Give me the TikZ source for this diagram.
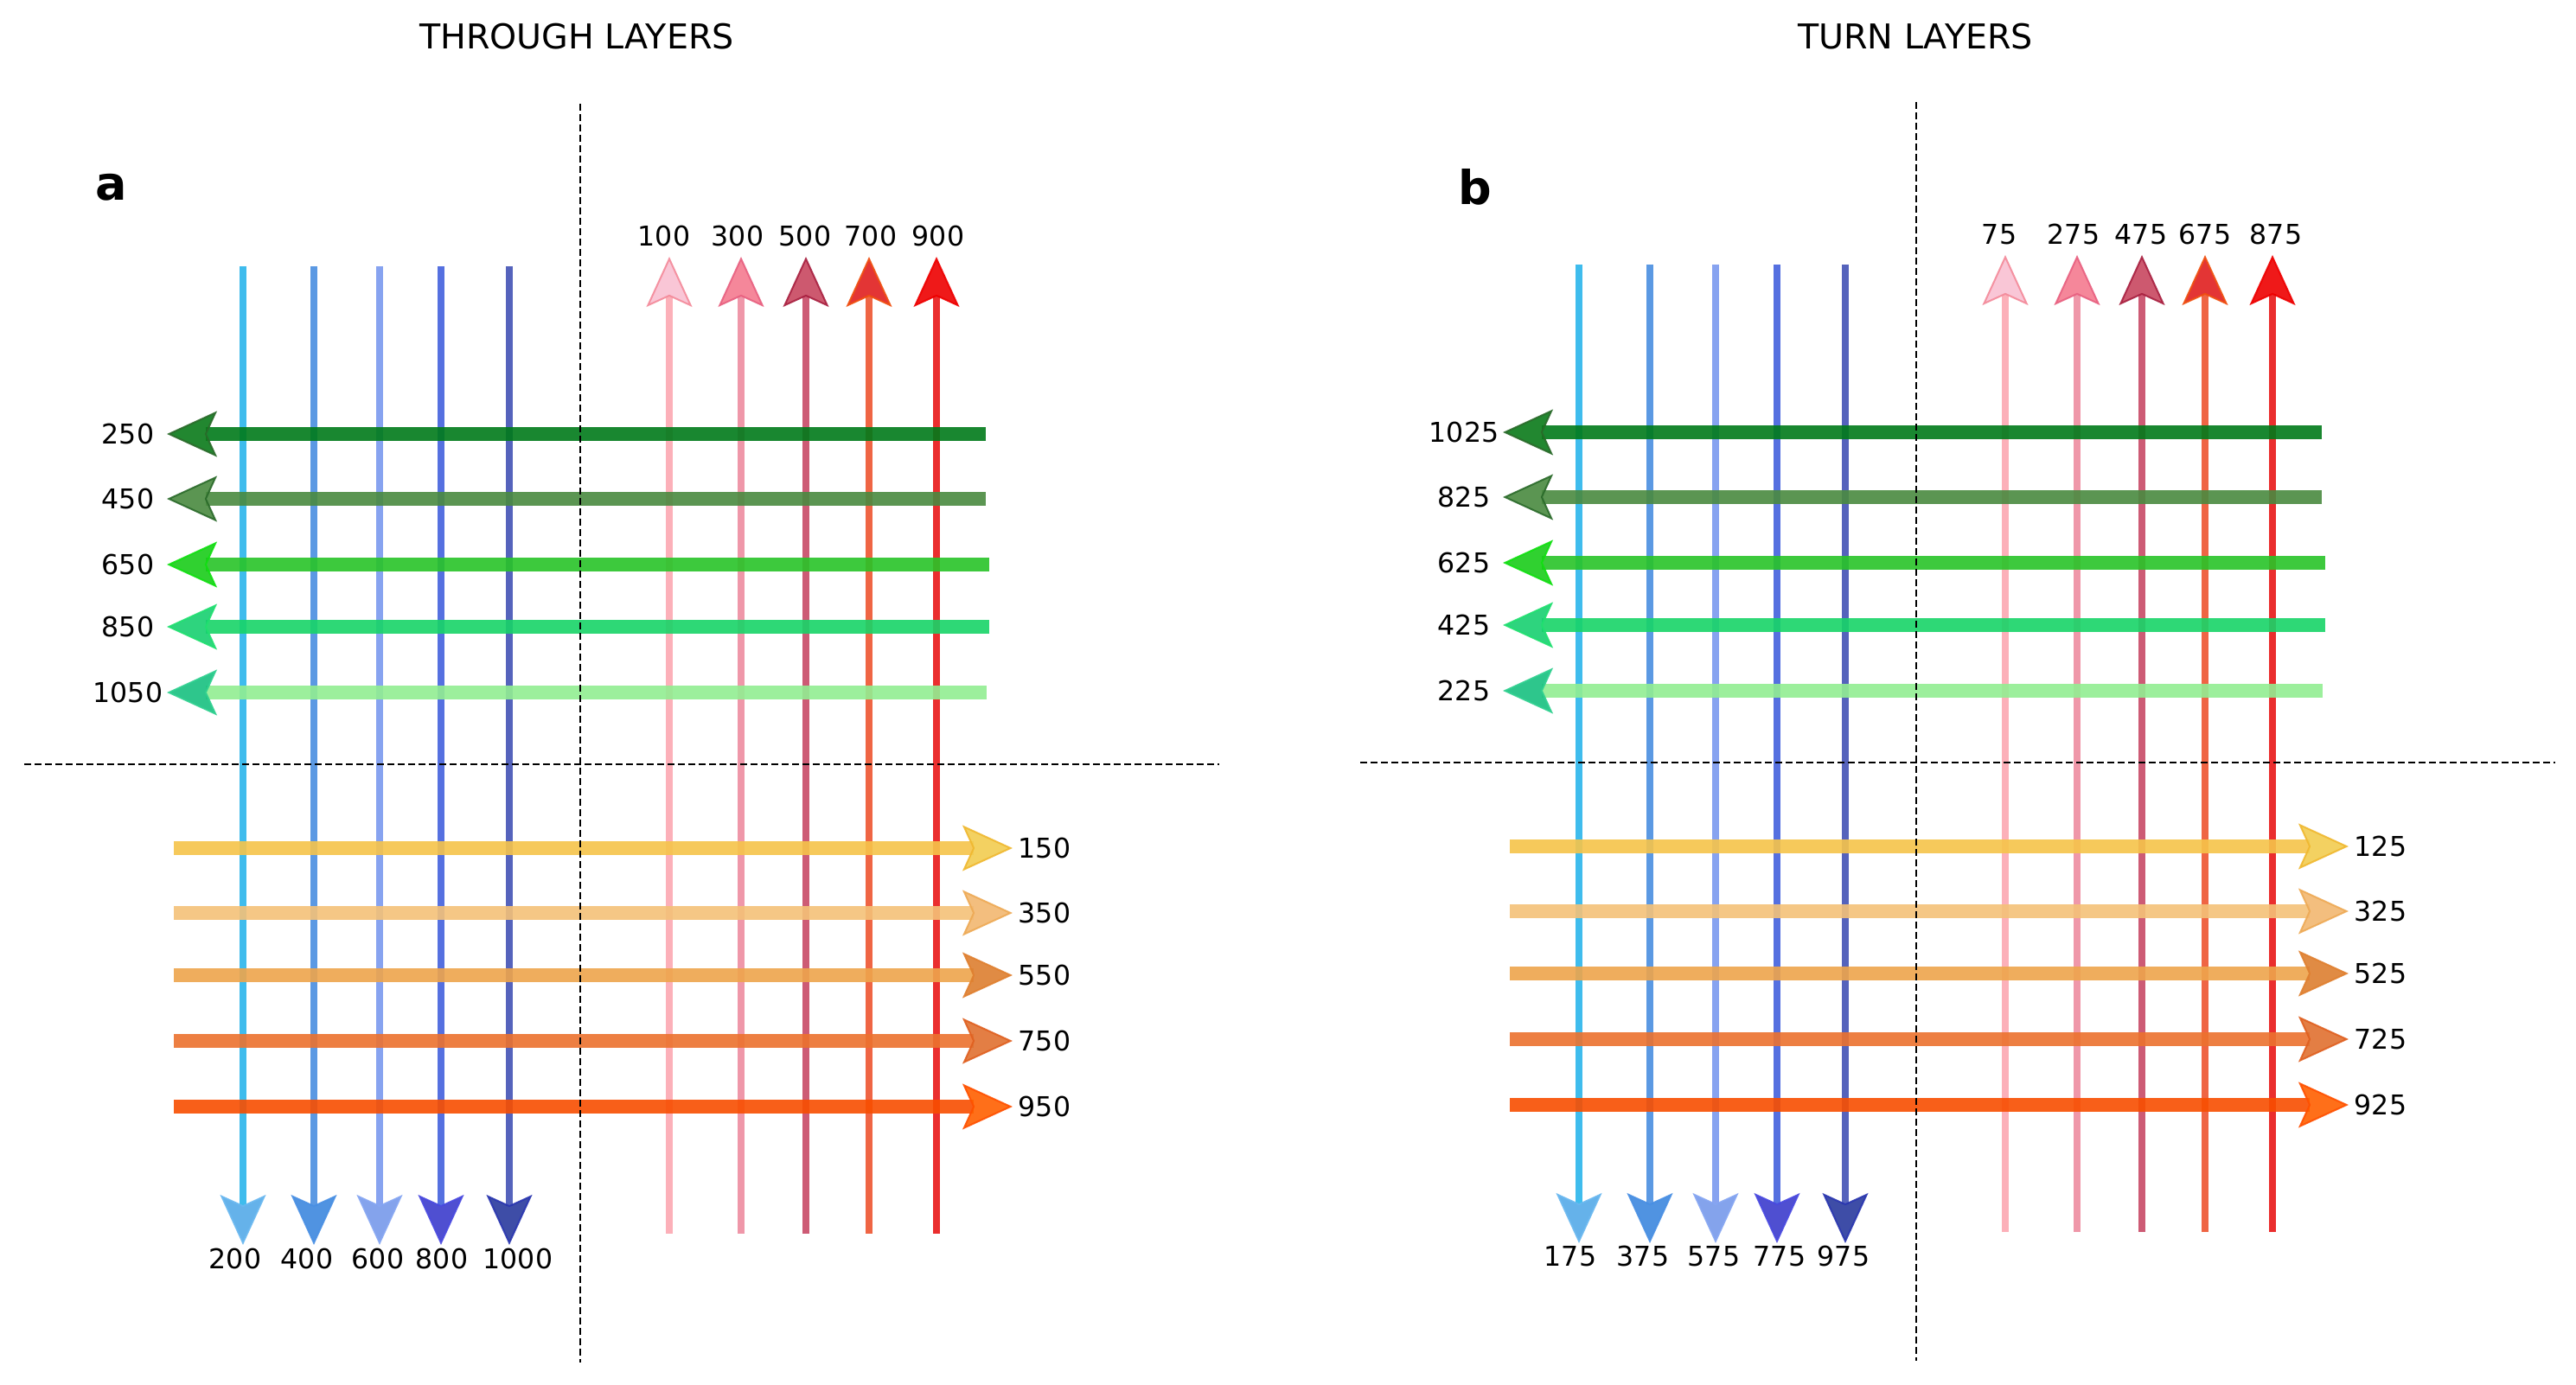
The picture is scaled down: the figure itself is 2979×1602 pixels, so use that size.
\documentclass[tikz,border=0pt]{standalone}
\usepackage{fontspec}
\setmainfont{DejaVu Sans}
\usetikzlibrary{arrows.meta}
% blue (down)
\definecolor{bl1L}{HTML}{2BB5EC}\definecolor{bl1H}{HTML}{55AAE8}\definecolor{bl1O}{HTML}{6AB8F0}
\definecolor{bl2L}{HTML}{4A8FE0}\definecolor{bl2H}{HTML}{3E88DE}\definecolor{bl2O}{HTML}{4A90E4}
\definecolor{bl3L}{HTML}{7A9AEF}\definecolor{bl3H}{HTML}{7799EA}\definecolor{bl3O}{HTML}{86A6F2}
\definecolor{bl4L}{HTML}{4361DD}\definecolor{bl4H}{HTML}{3C3CCC}\definecolor{bl4O}{HTML}{4A4AE0}
\definecolor{bl5L}{HTML}{4353B5}\definecolor{bl5H}{HTML}{2A3A9E}\definecolor{bl5O}{HTML}{2A36B0}
% red (up)
\definecolor{rd1L}{HTML}{FCA8B2}\definecolor{rd1H}{HTML}{F9C0D2}\definecolor{rd1O}{HTML}{F48A9A}
\definecolor{rd2L}{HTML}{EE8CA0}\definecolor{rd2H}{HTML}{F57A90}\definecolor{rd2O}{HTML}{E86080}
\definecolor{rd3L}{HTML}{C84A66}\definecolor{rd3H}{HTML}{C84860}\definecolor{rd3O}{HTML}{A82040}
\definecolor{rd4L}{HTML}{EE5530}\definecolor{rd4H}{HTML}{E02020}\definecolor{rd4O}{HTML}{F05010}
\definecolor{rd5L}{HTML}{E81818}\definecolor{rd5H}{HTML}{EE0000}\definecolor{rd5O}{HTML}{EE0000}
% green (left)
\definecolor{gr1L}{HTML}{007A1A}\definecolor{gr1H}{HTML}{0A7A1A}\definecolor{gr1O}{HTML}{2A6A2A}
\definecolor{gr2L}{HTML}{4A8A40}\definecolor{gr2H}{HTML}{4A8A40}\definecolor{gr2O}{HTML}{2A6A2A}
\definecolor{gr3L}{HTML}{28C428}\definecolor{gr3H}{HTML}{1ACC1A}\definecolor{gr3O}{HTML}{10E010}
\definecolor{gr4L}{HTML}{18D468}\definecolor{gr4H}{HTML}{18D070}\definecolor{gr4O}{HTML}{20E070}
\definecolor{gr5L}{HTML}{92EE92}\definecolor{gr5H}{HTML}{18C080}\definecolor{gr5O}{HTML}{30D090}
% orange (right)
\definecolor{or1L}{HTML}{F6C44A}\definecolor{or1H}{HTML}{F2CC50}\definecolor{or1O}{HTML}{F0B830}
\definecolor{or2L}{HTML}{F4C178}\definecolor{or2H}{HTML}{F2B870}\definecolor{or2O}{HTML}{EEAA55}
\definecolor{or3L}{HTML}{EEA54C}\definecolor{or3H}{HTML}{DD7F30}\definecolor{or3O}{HTML}{E08030}
\definecolor{or4L}{HTML}{EC722E}\definecolor{or4H}{HTML}{E07030}\definecolor{or4O}{HTML}{E06020}
\definecolor{or5L}{HTML}{F84E00}\definecolor{or5H}{HTML}{FF6000}\definecolor{or5O}{HTML}{FF5000}
\tikzset{
  vline/.style={line width=2.15pt, opacity=0.9},
  hline/.style={line width=4pt, opacity=0.9},
  headtip/.style={-{Stealth[length=14.5pt,width=13.25pt,inset=3pt,line width=0.5pt,color=#1O,fill=#1H]}},
  lab/.style={font=\fontsize{7.9}{9}\selectfont, inner sep=0pt},
  ttl/.style={font=\fontsize{9.9}{11}\selectfont, inner sep=0pt, anchor=base},
  letter/.style={font=\fontsize{13.5}{15}\selectfont\bfseries, inner sep=0pt, anchor=base},
  sepline/.style={line width=0.6pt, dash pattern=on 2pt off 1pt},
}
% #1 prefix, #2 down list x/col/label/labelx, #3 up list, #4 left list y/col/label/rightend, #5 right list y/col/label
\newcommand\drawpanel[5]{%
  \foreach \x/\c/\t/\lx [count=\i] in {#2}{%
    \coordinate (#1-ds\i) at (\x,308);
    \coordinate (#1-de\i) at (\x,1440);
    \draw[vline, draw=\c L, headtip=\c] (#1-ds\i) -- (#1-de\i);
    \node[lab, anchor=base] (#1-dl\i) at (\lx,1467) {\t};
  }
  \foreach \x/\c/\t/\lx [count=\i] in {#3}{%
    \coordinate (#1-us\i) at (\x,1427);
    \coordinate (#1-ue\i) at (\x,297);
    \draw[vline, draw=\c L, headtip=\c] (#1-us\i) -- (#1-ue\i);
    \node[lab, anchor=base] (#1-ul\i) at (\lx,285) {\t};
  }
  \foreach \y/\c/\t/\rx [count=\i] in {#4}{%
    \coordinate (#1-ls\i) at (\rx,\y);
    \coordinate (#1-le\i) at (193,\y);
    \draw[hline, draw=\c L, headtip=\c] (#1-ls\i) -- (#1-le\i);
    \node[lab] (#1-ll\i) at (148,\y) {\t};
  }
  \foreach \y/\c/\t [count=\i] in {#5}{%
    \coordinate (#1-rs\i) at (201,\y);
    \coordinate (#1-re\i) at (1171,\y);
    \draw[hline, draw=\c L, headtip=\c] (#1-rs\i) -- (#1-re\i);
    \node[lab] (#1-rl\i) at (1208,\y) {\t};
  }
  \coordinate (#1-vt) at (671,120);
  \coordinate (#1-vb) at (671,1576);
  \coordinate (#1-hl) at (28,884);
  \coordinate (#1-hr) at (1410,884);
  \draw[sepline] (#1-vt) -- (#1-vb);
  \draw[sepline] (#1-hl) -- (#1-hr);
}
\begin{document}
\begin{tikzpicture}[x=0.25pt,y=-0.25pt]
\useasboundingbox (0,0) rectangle (2979,1602);
\fill[white] (0,0) rectangle (2979,1602);
\node[ttl] (titleA) at (667,57) {THROUGH LAYERS};
\node[ttl] (titleB) at (2215,57) {TURN LAYERS};
\node[letter] (letA) at (129,232) {a};
\node[letter] (letB) at (1706,237) {b};
\drawpanel{a}%
 {281/bl1/200/272, 363/bl2/400/355, 439/bl3/600/437, 510/bl4/800/511, 589/bl5/1000/599}%
 {774/rd1/100/768, 857/rd2/300/853, 932/rd3/500/931, 1005/rd4/700/1007, 1083/rd5/900/1085}%
 {502/gr1/250/1140, 577/gr2/450/1140, 653/gr3/650/1144, 725/gr4/850/1144, 801/gr5/1050/1141}%
 {981/or1/150, 1056/or2/350, 1128/or3/550, 1204/or4/750, 1280/or5/950}
\begin{scope}[xshift=386.25pt, yshift=0.5pt]
\drawpanel{b}%
 {281/bl1/175/271, 363/bl2/375/355, 439/bl3/575/437, 510/bl4/775/513, 589/bl5/975/587}%
 {774/rd1/75/767, 857/rd2/275/853, 932/rd3/475/931, 1005/rd4/675/1005, 1083/rd5/875/1087}%
 {502/gr1/1025/1140, 577/gr2/825/1140, 653/gr3/625/1144, 725/gr4/425/1144, 801/gr5/225/1141}%
 {981/or1/125, 1056/or2/325, 1128/or3/525, 1204/or4/725, 1280/or5/925}
\end{scope}
\end{tikzpicture}
\end{document}
